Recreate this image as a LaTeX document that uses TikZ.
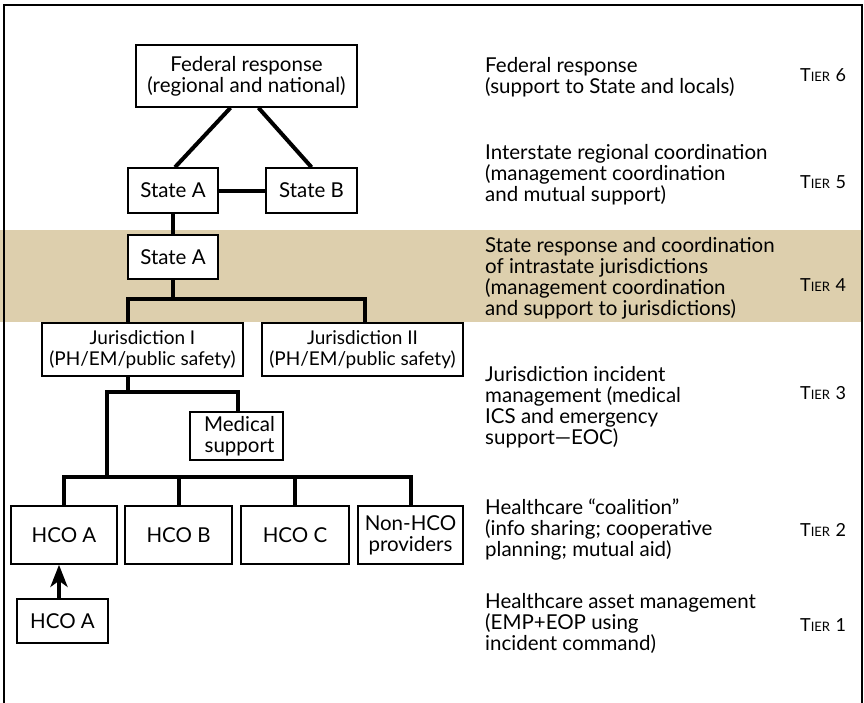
\documentclass[tikz,border=0pt]{standalone}
\usepackage{fontspec}
\setmainfont{Lato}
\usetikzlibrary{arrows.meta}
\definecolor{tanband}{RGB}{221,207,173}
\newcommand\txtsize{\fontsize{20.5}{21}\selectfont}
\newcommand\jursize{\fontsize{19}{21.5}\selectfont}
\newcommand\tiersize{\fontsize{18}{21}\selectfont}
\newcommand\tierlab[1]{T{\fontsize{13}{13}\selectfont IER}\hspace{0.3em}#1}
\begin{document}
\begin{tikzpicture}[x=1pt,y=-1pt,
  box/.style={draw, line width=1.6pt, fill=white, inner sep=0pt, align=center, font=\txtsize},
  conn/.style={line width=4pt},
  desc/.style={anchor=north west, align=left, inner sep=0pt, font=\txtsize},
  tierbox/.style={anchor=west, inner sep=0pt, font=\tiersize}]
\useasboundingbox (0,0) rectangle (864,702);
\fill[tanband] (0,230) rectangle (862,322);
\draw[line width=2.4pt] (4,730) -- (4,5) -- (862,5) -- (862,730);

% boxes
\node[box, minimum width=221pt, minimum height=62pt] (fed) at (246.5,76) {Federal response\\(regional and national)};
\node[box, minimum width=90pt, minimum height=45pt] (sa1) at (173,190.5) {State A};
\node[box, minimum width=91pt, minimum height=45pt] (sb) at (311.5,190.5) {State B};
\node[box, minimum width=90pt, minimum height=44pt] (sa2) at (173,257) {State A};
\node[box, font=\jursize, minimum width=201pt, minimum height=53pt] (j1) at (142.5,349.5) {Jurisdiction I\\(PH/EM/public safety)};
\node[box, font=\jursize, minimum width=201pt, minimum height=53pt] (j2) at (362.5,349.5) {Jurisdiction II\\(PH/EM/public safety)};
\node[box, minimum width=93pt, minimum height=48pt] (med) at (236.5,436) {\hspace*{6pt}Medical\\\hspace*{6pt}support};
\node[box, minimum width=106pt, minimum height=58pt] (hA) at (64,535) {HCO A};
\node[box, minimum width=107pt, minimum height=58pt] (hB) at (178.5,535) {HCO B};
\node[box, minimum width=108pt, minimum height=58pt] (hC) at (295,535) {HCO C};
\node[box, minimum width=105pt, minimum height=58pt] (nh) at (410.5,535) {Non-HCO\\providers};
\node[box, minimum width=91pt, minimum height=44pt] (hA2) at (62.5,621) {HCO A};

% connectors
\draw[conn] ([xshift=-16pt]fed.south) -- ([xshift=2pt]sa1.north);
\draw[conn] ([xshift=12pt]fed.south) -- (sb.north);
\draw[conn] (sa1.east) -- (sb.west);
\draw[conn] (sa1.south) -- (sa2.north);
\draw[conn] (sa2.south) -- ++(0,19) coordinate (bus1);
\draw[conn] ([xshift=-14.5pt]j1.north) |- (bus1) -| ([xshift=2.5pt]j2.north);
\draw[conn] ([xshift=-14.5pt]j1.south) -- ++(0,16) coordinate (bus2);
\coordinate (bus2l) at (107,392);
\draw[conn] ([xshift=1.5pt]med.north) |- (bus2l) -- (bus2l |- 0,477) coordinate (bus3);
\draw[conn] (hA.north) |- (bus3) -| (nh.north);
\draw[conn] (hB.north) -- (hB.north |- bus3);
\draw[conn] (hC.north) -- (hC.north |- bus3);
\draw[line width=4pt, -{Stealth[length=22pt, width=17pt, inset=6pt]}] ([xshift=-3.5pt]hA2.north) -- ([xshift=-5pt]hA.south);

% descriptions
\node[desc] (d6) at (485,57.5) {Federal response\\(support to State and locals)};
\node[desc] (d5) at (485,144) {Interstate regional coordination\\(management coordination\\and mutual support)};
\node[desc] (d4) at (485,237.5) {State response and coordination\\of intrastate jurisdictions\\(management coordination\\and support to jurisdictions)};
\node[desc] (d3) at (485,366.5) {Jurisdiction incident\\management (medical\\ICS and emergency\\support—EOC)};
\node[desc] (d2) at (485,499) {Healthcare “coalition”\\(info sharing; cooperative\\planning; mutual aid)};
\node[desc] (d1) at (485,593) {Healthcare asset management\\(EMP+EOP using\\incident command)};

% tiers
\node[tierbox] (t6) at (800,75) {\tierlab{6}};
\node[tierbox] (t5) at (800,182) {\tierlab{5}};
\node[tierbox] (t4) at (800,285) {\tierlab{4}};
\node[tierbox] (t3) at (800,393) {\tierlab{3}};
\node[tierbox] (t2) at (800,530) {\tierlab{2}};
\node[tierbox] (t1) at (800,625) {\tierlab{1}};
\end{tikzpicture}
\end{document}
